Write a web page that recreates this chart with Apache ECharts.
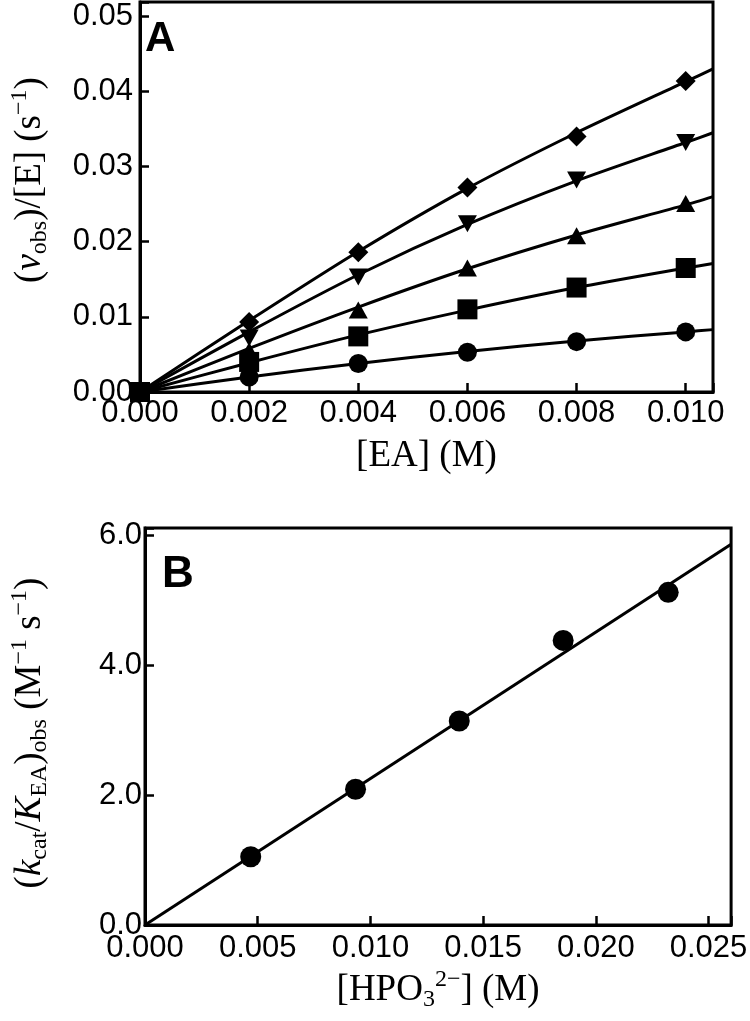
<!DOCTYPE html>
<html>
<head>
<meta charset="utf-8">
<script src="https://cdn.jsdelivr.net/npm/echarts@6/dist/echarts.min.js"></script>
<style>
html,body{margin:0;padding:0;background:#fff;}
#chart{width:750px;height:1021px;}
</style>
</head>
<body>
<div id="chart"></div>
<script>
// ---- Panel A data ----
const eaConc = [0, 0.002, 0.004, 0.006, 0.008, 0.010];
const rateDiamond = [0, 0.0093, 0.0186, 0.0272, 0.0340, 0.0414];
const rateTriDown = [0, 0.0072, 0.0153, 0.0224, 0.0282, 0.0332];
const rateTriUp   = [0, 0.0055, 0.0109, 0.0165, 0.0208, 0.0251];
const rateSquare  = [0, 0.0040, 0.0074, 0.0110, 0.0139, 0.0165];
const rateCircle  = [0, 0.0020, 0.0038, 0.0053, 0.0067, 0.0080];
// fitted curves
const fitConcA = [0, 0.002, 0.004, 0.006, 0.008, 0.010, 0.0105];
const fitDiamond = [0, 0.0095, 0.0187, 0.0271, 0.0345, 0.0413, 0.0430];
const fitTriDown = [0, 0.0080, 0.0156, 0.0223, 0.0281, 0.0332, 0.0345];
const fitTriUp   = [0, 0.0058, 0.0113, 0.0164, 0.0209, 0.0249, 0.0260];
const fitSquare  = [0, 0.0039, 0.0076, 0.0109, 0.0139, 0.0165, 0.0171];
const fitCircle  = [0, 0.0020, 0.0038, 0.0054, 0.0068, 0.0080, 0.0083];
// ---- Panel B data ----
const hpoConc = [0.00469, 0.00934, 0.01394, 0.01855, 0.02321];
const kcatKea = [1.05, 2.09, 3.14, 4.38, 5.12];
const fitConcB = [0, 0.026];
const fitKB = [0, 5.86];

const zip = (xs, ys) => xs.map((x, i) => [x, ys[i]]);
const sansFont = 'Liberation Sans';
const serifFont = 'Liberation Serif';

function fmt(interval, dec) {
  return function (v) {
    const r = v / interval;
    if (Math.abs(r - Math.round(r)) > 1e-6) return '';
    return v.toFixed(dec);
  };
}

const nameRich = {
  n: {fontFamily: serifFont, fontSize: 37, lineHeight: 44, color: '#000'},
  i: {fontFamily: serifFont, fontSize: 37, lineHeight: 44, fontStyle: 'italic', color: '#000'},
  sub: {fontFamily: serifFont, fontSize: 24, lineHeight: 22, verticalAlign: 'bottom', color: '#000'},
  sup: {fontFamily: serifFont, fontSize: 24, lineHeight: 18, verticalAlign: 'top', color: '#000'}
};

function axisCommon(interval, dec, margin) {
  return {
    axisLine: {show: true, onZero: false, lineStyle: {color: '#000', width: 3}},
    axisTick: {show: true, inside: true, length: 9, lineStyle: {color: '#000', width: 2.5}},
    splitLine: {show: false},
    axisLabel: {color: '#000', fontFamily: sansFont, fontSize: 31, margin: margin, formatter: fmt(interval, dec)},
    nameTextStyle: {rich: nameRich}
  };
}

const lineStyle = {color: '#000', width: 3};
function fitSeries(xs, ys, xi, yi) {
  return {type: 'line', xAxisIndex: xi, yAxisIndex: yi, data: zip(xs, ys), smooth: 0.25,
    showSymbol: false, symbol: 'none', lineStyle: lineStyle, silent: true, z: 2};
}
function ptSeries(xs, ys, symbol, size, rotate, xi, yi) {
  return {type: 'scatter', xAxisIndex: xi, yAxisIndex: yi, data: zip(xs, ys), symbol: symbol,
    symbolSize: size, symbolRotate: rotate, itemStyle: {color: '#000', opacity: 1}, z: 3};
}

const chart = echarts.init(document.getElementById('chart'), null, {renderer: 'canvas'});
chart.setOption({
  animation: false,
  backgroundColor: '#fff',
  grid: [
    {left: 128, top: 2, width: 585, height: 390, show: true, borderColor: '#000', borderWidth: 3, backgroundColor: 'transparent'},
    {left: 136, top: 528, width: 597, height: 397, show: true, borderColor: '#000', borderWidth: 3, backgroundColor: 'transparent'}
  ],
  xAxis: [
    Object.assign(axisCommon(0.002, 3, 6), {
      type: 'value', gridIndex: 0, min: 0, max: 0.0105, interval: 0.002,
      name: '{n|[EA] (M)}', nameLocation: 'middle', nameGap: 42
    }),
    Object.assign(axisCommon(0.005, 3, 8), {
      type: 'value', gridIndex: 1, min: 0, max: 0.026, interval: 0.005,
      name: '{n|[HPO}{sub|3}{sup|2\u2212}{n|] (M)}', nameLocation: 'middle', nameGap: 43
    })
  ],
  yAxis: [
    Object.assign(axisCommon(0.01, 2, 7), {
      type: 'value', gridIndex: 0, min: 0, max: 0.0519, interval: 0.01,
      name: '{n|(}{i|v}{sub|obs}{n|)/[E] (s}{sup|\u22121}{n|)}', nameLocation: 'middle', nameGap: 88,
      nameTextStyle: {rich: nameRich, padding: [0, 0, 0, 34]}
    }),
    Object.assign(axisCommon(2, 1, 3), {
      type: 'value', gridIndex: 1, min: 0, max: 6.11, interval: 2,
      name: '{n|(}{i|k}{sub|cat}{n|/}{i|K}{sub|EA}{n|)}{sub|obs}{n| (M}{sup|\u22121}{n| s}{sup|\u22121}{n|)}',
      nameLocation: 'middle', nameGap: 93,
      nameTextStyle: {rich: nameRich, padding: [0, 13, 0, 0]}
    })
  ],
  graphic: [
    {type: 'text', left: 145, top: 18, style: {text: 'A', font: 'bold 42px "Liberation Sans"', fill: '#000'}},
    {type: 'text', left: 162, top: 553, style: {text: 'B', font: 'bold 44px "Liberation Sans"', fill: '#000'}}
  ],
  series: [
    fitSeries(fitConcA, fitDiamond, 0, 0),
    fitSeries(fitConcA, fitTriDown, 0, 0),
    fitSeries(fitConcA, fitTriUp, 0, 0),
    fitSeries(fitConcA, fitSquare, 0, 0),
    fitSeries(fitConcA, fitCircle, 0, 0),
    ptSeries(eaConc, rateCircle, 'circle', 19, 0, 0, 0),
    ptSeries(eaConc, rateTriUp, 'triangle', [19, 17], 0, 0, 0),
    ptSeries(eaConc, rateTriDown, 'triangle', [19, 17], 180, 0, 0),
    ptSeries(eaConc, rateDiamond, 'diamond', 20, 0, 0, 0),
    ptSeries(eaConc, rateSquare, 'rect', 20, 0, 0, 0),
    {type: 'line', xAxisIndex: 1, yAxisIndex: 1, data: zip(fitConcB, fitKB), showSymbol: false, symbol: 'none', lineStyle: lineStyle, silent: true, z: 2},
    ptSeries(hpoConc, kcatKea, 'circle', 21, 0, 1, 1)
  ]
});
</script>
</body>
</html>
